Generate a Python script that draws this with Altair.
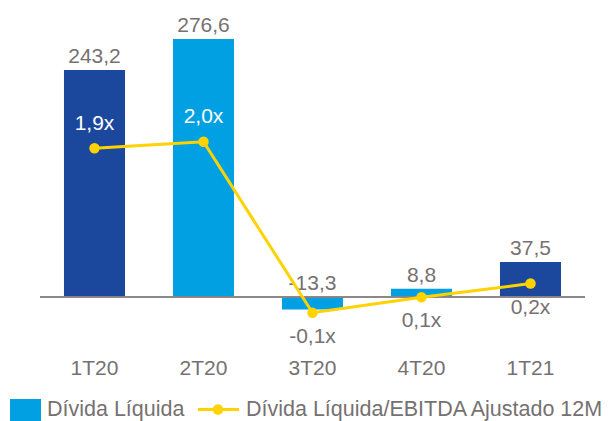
import altair as alt
import pandas as pd

# ---- data ----
trimestres = ["1T20", "2T20", "3T20", "4T20", "1T21"]
divida = [243.2, 276.6, -13.3, 8.8, 37.5]
divida_txt = ["243,2", "276,6", "-13,3", "8,8", "37,5"]
grupo = ["escuro", "claro", "claro", "claro", "escuro"]
ratio = [1.91, 1.99, -0.12, 0.07, 0.24]
ratio_txt = ["1,9x", "2,0x", "-0,1x", "0,1x", "0,2x"]
legenda_barra = ["Dívida Líquida"]
legenda_linha = ["Dívida Líquida/EBITDA Ajustado 12M"]

DARK = "#1B479C"
LIGHT = "#00A0E2"
YELLOW = "#FFD200"
GRAY = "#767171"
FONT = "Liberation Sans"
FS = 21

df = pd.DataFrame({
    "tri": trimestres,
    "divida": divida,
    "divida_txt": divida_txt,
    "grupo": grupo,
    "ratio": ratio,
    "ratio_txt": ratio_txt,
})

W, H = 545, 320

x = alt.X(
    "tri:N", sort=trimestres,
    scale=alt.Scale(paddingInner=0.44, paddingOuter=0.22),
    axis=alt.Axis(title=None, domain=False, ticks=False, labelAngle=0,
                  labelPadding=17, labelFontSize=FS, labelColor=GRAY,
                  labelFont=FONT),
)

yb_scale = alt.Scale(domain=[-46.1, 296.9], nice=False, zero=False)
base_b = alt.Chart(df).encode(x=x)

bars = base_b.mark_bar().encode(
    y=alt.Y("divida:Q", scale=yb_scale, axis=None),
    color=alt.Color("grupo:N", scale=alt.Scale(domain=["escuro", "claro"], range=[DARK, LIGHT]), legend=None),
)

bar_labels = base_b.transform_calculate(
    pos="max(datum.divida, 0)"
).mark_text(baseline="alphabetic", dy=-7, fontSize=FS, color=GRAY, font=FONT).encode(
    y=alt.Y("pos:Q", scale=yb_scale, axis=None),
    text="divida_txt:N",
)

baseline = base_b.transform_calculate(zero="0").mark_rule(color="#8a8585", strokeWidth=1).encode(
    y=alt.Y("zero:Q", scale=yb_scale, axis=None), x=alt.value(0), x2=alt.value(W)
)

# ---- legend (drawn inside the bar layer) ----
leg_df1 = pd.DataFrame({"t": legenda_barra})
leg_df2 = pd.DataFrame({"t": legenda_linha})
LY = 389.5
leg_sq = alt.Chart(leg_df1).mark_rect(color=LIGHT).encode(
    x=alt.value(-30), x2=alt.value(1), y=alt.value(379), y2=alt.value(401)
)
leg_t1 = alt.Chart(leg_df1).mark_text(align="left", baseline="middle", fontSize=21.5, color=GRAY, font=FONT).encode(
    x=alt.value(7), y=alt.value(LY), text="t:N"
)
leg_ln = alt.Chart(leg_df2).mark_rule(color=YELLOW, strokeWidth=3).encode(
    x=alt.value(158), x2=alt.value(199), y=alt.value(LY)
)
leg_pt = alt.Chart(leg_df2).mark_circle(color=YELLOW, size=110, opacity=1).encode(
    x=alt.value(178), y=alt.value(LY)
)
leg_t2 = alt.Chart(leg_df2).mark_text(align="left", baseline="middle", fontSize=21.5, color=GRAY, font=FONT).encode(
    x=alt.value(206), y=alt.value(LY), text="t:N"
)

bar_layer = alt.layer(bars, baseline, bar_labels, leg_sq, leg_t1, leg_ln, leg_pt, leg_t2)

yl_scale = alt.Scale(domain=[-0.457, 3.494], nice=False, zero=False)
base_l = alt.Chart(df).encode(x=x, y=alt.Y("ratio:Q", scale=yl_scale, axis=None))

line = base_l.mark_line(color=YELLOW, strokeWidth=3)
points = base_l.mark_circle(color=YELLOW, size=110, opacity=1)
lab_above = base_l.transform_filter("datum.ratio > 1").mark_text(
    dy=-24.5, baseline="middle", fontSize=FS, color="white", font=FONT
).encode(text="ratio_txt:N")
lab_below = base_l.transform_filter("datum.ratio <= 1").mark_text(
    dy=24, baseline="middle", fontSize=FS, color=GRAY, font=FONT
).encode(text="ratio_txt:N")

line_layer = alt.layer(line, points, lab_above, lab_below)

chart = alt.layer(bar_layer, line_layer).resolve_scale(y="independent").properties(
    width=W, height=H,
    autosize=alt.AutoSizeParams(type="none"),
    padding={"left": 32, "top": 12, "right": 17, "bottom": 81},
).configure_view(stroke=None)

chart.save("out.html", embed_options={"renderer": "svg", "actions": False})
